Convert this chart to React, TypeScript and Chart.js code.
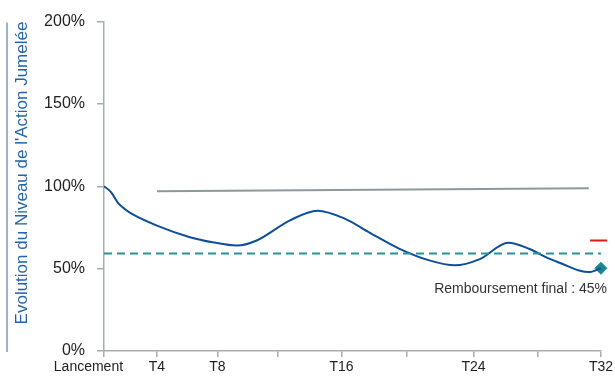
import React, { useEffect, useRef } from "react";
import { Chart, registerables } from "chart.js";

Chart.register(...registerables);

// x-axis tick positions (quarters since launch) and labels
const xTickValues = [0, 3.4, 7.3, 11.2, 15.3, 19.5, 23.8, 27.9, 32];
const xTickLabels = ["Lancement" + "\u00a0".repeat(8), "T4", "T8", "", "T16", "", "T24", "", "T32"];
const yTickValues = [0, 50, 100, 150, 200];

// Evolution du niveau de l'action jumelée (%)
const pathX = [0, 0.45, 0.9, 1.4, 1.8, 3.41, 5.53, 7.0, 8.55, 9.83, 11.95, 13.75, 15.5, 17.1, 19.0, 20.95, 22.6, 24.16, 26.04, 27.37, 28.45, 29.5, 30.59, 31.22, 32];
const pathY = [100, 96.5, 90.0, 85.8, 83.2, 76.1, 69.1, 66.0, 64.0, 67.1, 79.2, 85.2, 80.4, 71.9, 62.2, 55.0, 52.0, 55.6, 65.7, 62.1, 57.0, 53.0, 48.9, 47.9, 50.2];

// reference level line (grey)
const refX = [3.41, 31.22];
const refY = [97.0, 98.8];

// barrier (dashed teal)
const barrierX = [0, 32];
const barrierY = [59.2, 59.2];

// red marker
const redX = [31.3, 32.4];
const redY = [67.1, 67.1];

// final point
const finalX = [32];
const finalY = [50.2];

const annotationText = "Remboursement final : 45%";
const yTitle = "Evolution du Niveau de l'Action Jumelée";

const zip = (xs: number[], ys: number[]) => xs.map((x, i) => ({ x, y: ys[i] }));

const FONT = "'Liberation Sans', Arial, Helvetica, sans-serif";

export default function App() {
  const ref = useRef<HTMLCanvasElement | null>(null);

  useEffect(() => {
    if (!ref.current) return;
    const decor = {
      id: "decor",
      afterDraw(chart: any) {
        const ctx = chart.ctx;
        const yScale = chart.scales.y;
        const xScale = chart.scales.x;
        ctx.save();
        ctx.strokeStyle = "#7f9bb8";
        ctx.lineWidth = 1.5;
        ctx.beginPath();
        ctx.moveTo(7, yScale.getPixelForValue(200) + 1);
        ctx.lineTo(7, yScale.getPixelForValue(0) + 1);
        ctx.stroke();
        ctx.fillStyle = "#333333";
        ctx.font = "14px " + FONT;
        ctx.textAlign = "right";
        ctx.textBaseline = "middle";
        ctx.fillText(annotationText, xScale.getPixelForValue(32) + 6, yScale.getPixelForValue(37.5));
        ctx.restore();
      },
    };

    const chart = new Chart(ref.current, {
      type: "line",
      data: {
        datasets: [
          {
            data: zip(refX, refY),
            borderColor: "#8e999e",
            borderWidth: 2,
            pointRadius: 0,
            tension: 0,
          },
          {
            data: zip(barrierX, barrierY),
            borderColor: "#2b9196",
            borderWidth: 2,
            borderDash: [8, 5],
            pointRadius: 0,
            tension: 0,
          },
          {
            data: zip(pathX, pathY),
            borderColor: "#0d4f9a",
            borderWidth: 2,
            pointRadius: 0,
            cubicInterpolationMode: "monotone",
          },
          {
            data: zip(redX, redY),
            borderColor: "#e8141b",
            borderWidth: 2,
            pointRadius: 0,
            tension: 0,
            clip: false,
          },
          {
            data: zip(finalX, finalY),
            borderColor: "#158a8c",
            backgroundColor: "#158a8c",
            pointStyle: "rectRot",
            pointRadius: 6,
            showLine: false,
            clip: false,
          },
        ] as any,
      },
      options: {
        responsive: false,
        animation: false,
        layout: { padding: { top: 20, right: 13, left: 0, bottom: 0 } },
        plugins: { legend: { display: false }, tooltip: { enabled: false } },
        scales: {
          x: {
            type: "linear",
            min: 0,
            max: 32,
            afterBuildTicks: (scale: any) => {
              scale.ticks = xTickValues.map((v) => ({ value: v }));
            },
            afterFit: (scale: any) => {
              scale.height = 27;
            },
            ticks: {
              autoSkip: false,
              maxRotation: 0,
              padding: 2,
              color: "#222222",
              font: { size: 14, family: FONT },
              callback: (_v: any, i: number) => xTickLabels[i],
            },
            grid: { drawOnChartArea: false, tickLength: 6, color: "#a3adb2", lineWidth: 1.5 },
            border: { color: "#a3adb2", width: 1.5 },
          },
          y: {
            min: 0,
            max: 200,
            afterBuildTicks: (scale: any) => {
              scale.ticks = yTickValues.map((v) => ({ value: v }));
            },
            afterFit: (scale: any) => {
              scale.width = 104;
            },
            ticks: {
              padding: 12,
              color: "#222222",
              font: { size: 16, family: FONT },
              callback: (v: any) => v + "%",
            },
            grid: { drawOnChartArea: false, tickLength: 7, color: "#a3adb2", lineWidth: 1.5 },
            border: { color: "#a3adb2", width: 1.5 },
            title: {
              display: true,
              text: yTitle,
              align: "end",
              color: "#2464a8",
              font: { size: 17, family: FONT },
              padding: { top: 12, bottom: 0 },
            },
          },
        },
      } as any,
      plugins: [decor],
    });
    return () => chart.destroy();
  }, []);

  return (
    <div style={{ position: "fixed", left: 0, top: 0, width: 615, height: 378, background: "#fff" }}>
      <canvas ref={ref} width={615} height={378} style={{ display: "block" }} />
    </div>
  );
}
